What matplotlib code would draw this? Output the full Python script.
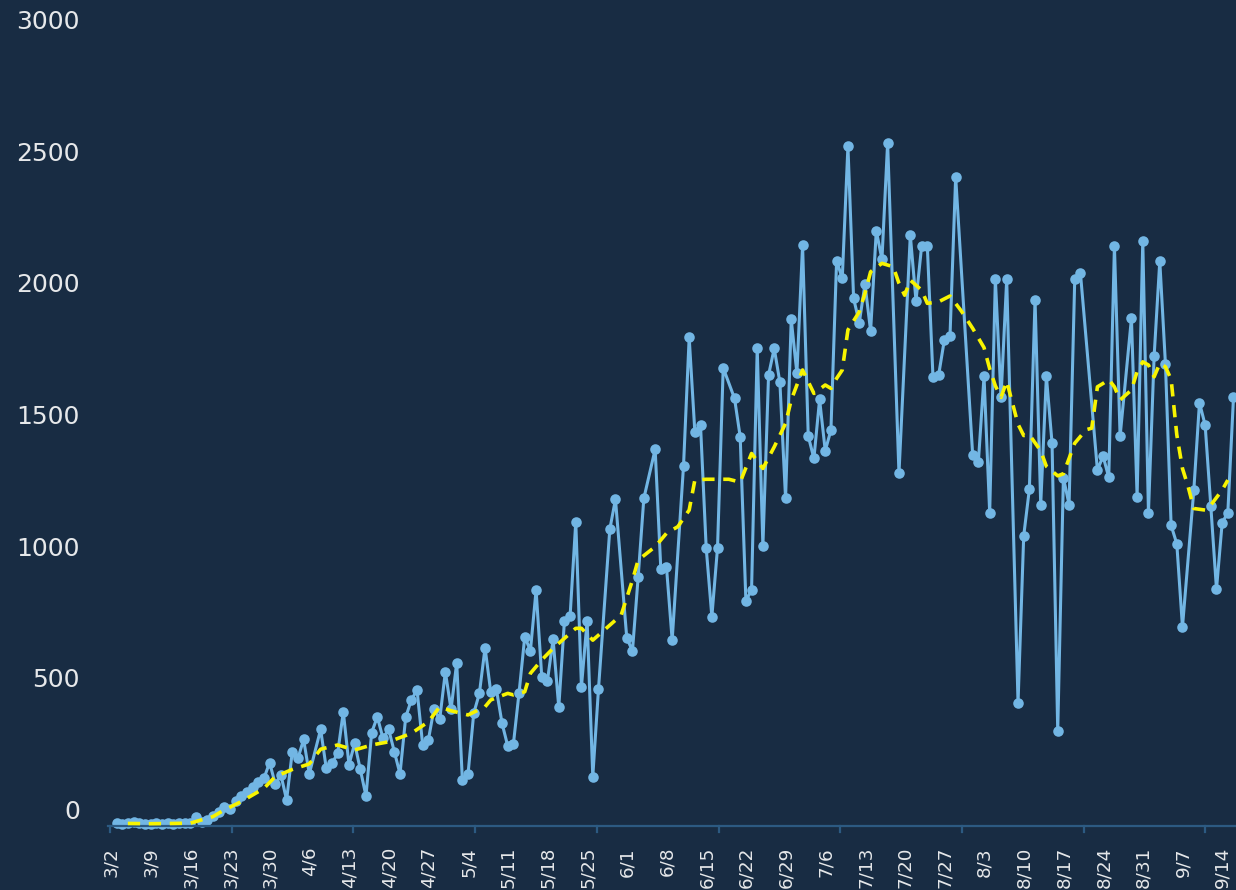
import matplotlib
matplotlib.use("Agg")
import matplotlib.pyplot as plt
import matplotlib.dates as mdates
from matplotlib.lines import Line2D
from matplotlib.transforms import blended_transform_factory, ScaledTranslation
from datetime import datetime

YEAR = 2020

# ---------------- data ----------------
case_dates = (
    ['3/%d' % d for d in range(2, 32)]
    + ['4/1', '4/2', '4/3', '4/4', '4/5'] + ['4/%d' % d for d in range(7, 31)]
    + ['5/%d' % d for d in range(1, 27)] + ['5/28', '5/29', '5/31']
    + ['6/1', '6/2', '6/3', '6/5', '6/6', '6/7', '6/8']
    + ['6/%d' % d for d in range(10, 18)] + ['6/%d' % d for d in range(19, 31)]
    + ['7/%d' % d for d in range(1, 17)] + ['7/18'] + ['7/%d' % d for d in range(20, 29)] + ['7/31']
    + ['8/%d' % d for d in range(1, 7)] + ['8/%d' % d for d in range(8, 20)]
    + ['8/%d' % d for d in range(22, 27)] + ['8/%d' % d for d in range(28, 32)]
    + ['9/%d' % d for d in range(1, 7)] + ['9/%d' % d for d in range(8, 16)]
)
case_counts = [
    # March
    4, 3, 5, 8, 4, 3, 3, 5, 3, 4, 3, 5, 4, 6, 27, 8, 17, 32, 49, 66, 57, 90, 108, 125,
    144, 160, 175, 235, 154, 188,
    # April
    93, 276, 251, 323, 192, 361, 213, 232, 270, 428, 227, 308, 209, 108, 349, 409, 327,
    361, 276, 192, 407, 473, 511, 302, 321, 440, 399, 580, 437,
    # May
    614, 169, 192, 422, 498, 671, 504, 513, 384, 298, 306, 501, 713, 660, 890, 561, 546,
    703, 445, 774, 792, 1150, 523, 774, 182, 513, 1121, 1235, 707,
    # June
    660, 939, 1238, 1425, 969, 977, 700, 1361, 1850, 1491, 1517, 1051, 789, 1051, 1734,
    1618, 1472, 850, 890, 1808, 1057, 1707, 1808, 1679, 1238, 1918, 1713,
    # July
    2200, 1475, 1390, 1614, 1419, 1498, 2141, 2074, 2576, 1998, 1905, 2052, 1874, 2255,
    2146, 2589, 1333, 2238, 1989, 2197, 2197, 1698, 1707, 1840, 1855, 2460, 1404,
    # August
    1375, 1702, 1183, 2070, 1622, 2070, 462, 1096, 1274, 1993, 1215, 1702, 1448, 355,
    1317, 1215, 2070, 2095, 1346, 1399, 1318, 2197, 1474, 1922, 1245, 2217, 1184,
    # September
    1778, 2140, 1747, 1136, 1066, 750, 1269, 1602, 1517, 1209, 893, 1146, 1184, 1622,
]

avg_dates = [
    '3/4', '3/8', '3/12', '3/15', '3/19', '3/21', '3/24', '3/28', '3/30', '4/2', '4/5',
    '4/7', '4/10', '4/13', '4/16', '4/19', '4/23', '4/26', '4/28', '4/30', '5/3', '5/6',
    '5/7', '5/10', '5/11', '5/13', '5/14', '5/16', '5/18', '5/19', '5/22', '5/23', '5/25',
    '5/27', '5/30', '6/1', '6/2', '6/5', '6/7', '6/9', '6/11', '6/12', '6/14', '6/18',
    '6/20', '6/22', '6/24', '6/26', '6/28', '6/29', '7/1', '7/3', '7/5', '7/6', '7/7',
    '7/8', '7/9', '7/11', '7/12', '7/13', '7/15', '7/17', '7/18', '7/19', '7/20', '7/22',
    '7/23', '7/25', '7/27', '7/29', '7/31', '8/2', '8/3', '8/4', '8/5', '8/6', '8/8',
    '8/9', '8/10', '8/12', '8/13', '8/15', '8/16', '8/18', '8/20', '8/21', '8/22', '8/23',
    '8/24', '8/25', '8/26', '8/28', '8/29', '8/30', '8/31', '9/1', '9/2', '9/3', '9/4',
    '9/5', '9/6', '9/7', '9/8', '9/10', '9/11', '9/13', '9/14',
]
avg_counts = [
    4, 3, 4, 5, 30, 55, 87, 137, 182, 209, 230,
    286, 302, 283, 302, 314, 346, 390, 447, 432, 416, 447,
    473, 498, 492, 504, 574, 625, 669, 688, 745, 745, 700,
    738, 795, 928, 1004, 1055, 1106, 1131, 1194, 1308, 1311, 1311,
    1300, 1409, 1352, 1434, 1523, 1612, 1726, 1637, 1669, 1656, 1694,
    1726, 1878, 1947, 2017, 2099, 2131, 2118, 2055, 2010, 2067, 2029,
    1979, 1985, 2007, 1950, 1884, 1811, 1731, 1666, 1622, 1683, 1520,
    1477, 1480, 1419, 1360, 1324, 1332, 1448, 1499, 1505, 1662, 1675,
    1690, 1662, 1612, 1650, 1720, 1757, 1745, 1700, 1751, 1738, 1690,
    1480, 1352, 1283, 1200, 1194, 1213, 1270, 1308,
]

week_labels = ['3/2', '3/9', '3/16', '3/23', '3/30', '4/6', '4/13', '4/20', '4/27',
               '5/4', '5/11', '5/18', '5/25', '6/1', '6/8', '6/15', '6/22', '6/29',
               '7/6', '7/13', '7/20', '7/27', '8/3', '8/10', '8/17', '8/24', '8/31',
               '9/7', '9/14']
y_ticks = [0, 500, 1000, 1500, 2000, 2500, 3000]


def to_num(s):
    m, d = s.split('/')
    return mdates.date2num(datetime(YEAR, int(m), int(d)))


# ---------------- style ----------------
BG = '#182c43'
BLUE = '#72b6e4'
YELLOW = '#f8f400'
AXIS = '#2c5a82'
TEXT = '#e6e8ea'
FONT = 'DejaVu Sans'

W, H, DPI = 1236, 890, 100
fig = plt.figure(figsize=(W / DPI, H / DPI), dpi=DPI, facecolor=BG)
ax_left, ax_right, ax_bottom, ax_top = 108, 1236, 826, 34.5
ax = fig.add_axes([ax_left / W, 1 - ax_bottom / H,
                   (ax_right - ax_left) / W, (ax_bottom - ax_top) / H])
ax.set_facecolor(BG)

px_per_day = 5.67
start = to_num(week_labels[0]) - 1.5
ax.set_xlim(start, start + (ax_right - ax_left) / px_per_day)
ax.set_ylim(-5.7, 3000)

xs = [to_num(s) for s in case_dates]
xa = [to_num(s) for s in avg_dates]

ax.plot(xs, case_counts, color=BLUE, lw=2.2, marker='o', ms=7.6,
        markeredgewidth=0, zorder=2, clip_on=False)
ax.plot(xa, avg_counts, color=YELLOW, lw=2.6, dashes=(3.4, 2.4),
        dash_capstyle='butt', zorder=3)

for side in ('top', 'right', 'left'):
    ax.spines[side].set_visible(False)
ax.spines['bottom'].set_color(AXIS)
ax.spines['bottom'].set_linewidth(1.6)
ax.set_xticks([])
ax.set_yticks([])

# decorative tick marks along the axis line (every ~121.7 px)
tick_step_px = 121.7
ax_w = ax_right - ax_left
ax_h = ax_bottom - ax_top
k = 0
while 2 + k * tick_step_px < ax_w:
    fx = (2 + k * tick_step_px) / ax_w
    ax.add_line(Line2D([fx, fx], [0, -6 / ax_h], transform=ax.transAxes,
                       color=AXIS, lw=1.6, clip_on=False))
    k += 1

# x labels (rotated)
xtrans = blended_transform_factory(ax.transData, ax.transAxes) + \
    ScaledTranslation(-5 / DPI, -21 / DPI, fig.dpi_scale_trans)
for s in week_labels:
    ax.text(to_num(s), 0, s, transform=xtrans, rotation=90, ha='center', va='top',
            fontsize=13.2, color=TEXT, family=FONT, clip_on=False)

# y labels (placed above their value, right-aligned)
ytrans = blended_transform_factory(fig.transFigure, ax.transData) + \
    ScaledTranslation(0, 12.5 / DPI, fig.dpi_scale_trans)
for v in y_ticks:
    ax.text(80 / W, v, str(v), transform=ytrans, ha='right', va='center',
            fontsize=18, color=TEXT, family=FONT, clip_on=False)

fig.savefig('out.png', dpi=DPI, facecolor=BG)
